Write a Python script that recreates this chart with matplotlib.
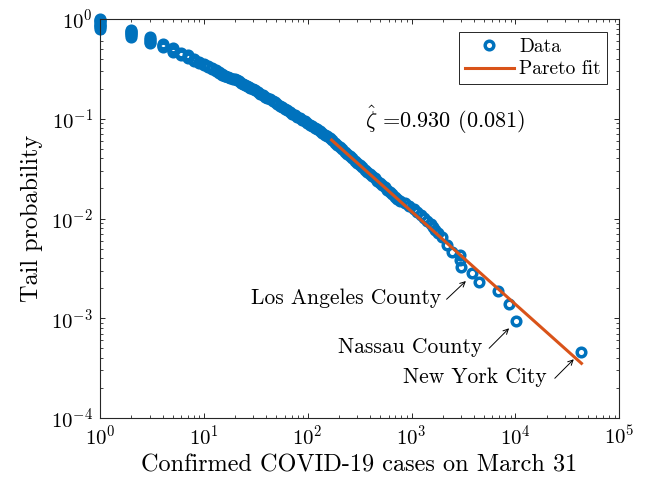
import matplotlib
matplotlib.use("Agg")
import matplotlib.pyplot as plt
from matplotlib.ticker import LogLocator, NullFormatter

plt.rcParams['font.family'] = 'cmr10'
plt.rcParams['mathtext.fontset'] = 'cm'
plt.rcParams['axes.formatter.use_mathtext'] = True

# ---- Data read from the reference (cases, empirical tail probability) ----
# counties with few cases: vertical stacks at integer case counts
stack_cases = [1]*9 + [2]*7 + [3]*5 + [4]*4 + [5]*4 + [6]*3 + [7]*3 + [8]*3 + \
              [9]*2 + [10]*2 + [11]*2 + [12]*2 + [13]*2 + [14]*2 + [15]*2 + [16]*2 + \
              [17, 18, 19, 20]
stack_tail_prob = [1.0, 0.975, 0.95, 0.925, 0.90, 0.875, 0.85, 0.825, 0.80,
                   0.785, 0.765, 0.745, 0.725, 0.705, 0.685, 0.665,
                   0.655, 0.635, 0.615, 0.595, 0.575,
                   0.565, 0.55, 0.535, 0.52,
                   0.51, 0.495, 0.48, 0.47,
                   0.46, 0.45, 0.44,
                   0.432, 0.42, 0.408,
                   0.398, 0.388, 0.378,
                   0.37, 0.36,
                   0.352, 0.344,
                   0.336, 0.328,
                   0.32, 0.312,
                   0.305, 0.298,
                   0.292, 0.286,
                   0.28, 0.275,
                   0.27, 0.266,
                   0.262, 0.258, 0.253, 0.249]

# body of the distribution
body_cases = [21, 22, 23, 24, 25, 26, 27, 28, 30, 31, 33, 35, 37, 39, 41, 43, 46, 48,
              51, 54, 57, 60, 63, 67, 71, 75, 79, 84, 89, 94, 99, 105, 111, 117, 124,
              131, 138, 146, 154, 163, 172,
              182, 192, 203, 215, 227, 240, 254, 268, 284, 300, 317, 335, 354, 374,
              396, 418, 442, 467, 494, 522, 552, 583, 617, 652, 689, 728, 770,
              866, 955, 1052, 1133, 1222, 1313, 1416, 1527, 1607, 1694, 1783]
body_tail_prob = [0.244, 0.237, 0.231, 0.225, 0.219, 0.214, 0.210, 0.205, 0.197, 0.193,
                  0.186, 0.179, 0.173, 0.167, 0.162, 0.157, 0.150, 0.146, 0.140, 0.135,
                  0.130, 0.125, 0.122, 0.117, 0.112, 0.109, 0.105, 0.101, 0.097, 0.094,
                  0.0906, 0.0873, 0.0843, 0.0814, 0.0785, 0.0754, 0.0724, 0.0695,
                  0.0667, 0.0640, 0.0610,
                  0.0574, 0.0547, 0.0519, 0.0492, 0.0468, 0.0444, 0.0421, 0.0401,
                  0.0380, 0.0360, 0.0343, 0.0325, 0.0309, 0.0294, 0.0279, 0.0265,
                  0.0252, 0.0239, 0.0227, 0.0215, 0.0205, 0.0194, 0.0184, 0.0175,
                  0.0166, 0.0158, 0.0150,
                  0.01429, 0.01334, 0.01245, 0.01162, 0.01084, 0.01012, 0.00944,
                  0.00881, 0.00822, 0.00767, 0.00716]

# largest counties (individual circles)
tail_cases = [1944, 2173, 2427, 2915, 2915, 2965, 3785, 4450, 6820, 8650, 10090, 43260]
tail_tail_prob = [6.57e-3, 5.42e-3, 4.65e-3, 4.31e-3, 3.84e-3, 3.29e-3, 2.82e-3,
                  2.32e-3, 1.88e-3, 1.39e-3, 9.38e-4, 4.56e-4]

# Pareto fit line (end points)
fit_cases = [170, 43260]
fit_tail_prob = [0.0612, 3.53e-4]

zeta_hat = "0.930"
zeta_se = "0.081"

cases = stack_cases + body_cases + tail_cases
tail_prob = stack_tail_prob + body_tail_prob + tail_tail_prob

BLUE = '#0072BD'
ORANGE = '#D95319'
AXC = '#262626'

fig = plt.figure(figsize=(6.56, 4.83), dpi=100)
ax = fig.add_axes([0.1524, 0.1346, 0.7916, 0.826])

ax.plot(cases, tail_prob, 'o', ms=6.2, mew=2.5, mfc='none', mec=BLUE,
        ls='none', label='Data', zorder=2, clip_on=False)
ax.plot(fit_cases, fit_tail_prob, '-', color=ORANGE, lw=2.2,
        label='Pareto fit', zorder=3)

ax.set_xscale('log')
ax.set_yscale('log')
ax.set_xlim(1, 1e5)
ax.set_ylim(1e-4, 1)

for axis in (ax.xaxis, ax.yaxis):
    axis.set_major_locator(LogLocator(base=10, numticks=20))
    axis.set_minor_locator(LogLocator(base=10, subs=range(2, 10), numticks=100))
    axis.set_minor_formatter(NullFormatter())

ax.tick_params(which='both', direction='in', top=True, right=True,
               labelsize=15, colors=AXC, labelcolor='k')
ax.tick_params(which='major', length=3.5, width=0.7, pad=5)
ax.tick_params(which='minor', length=2.0, width=0.6)
for s in ax.spines.values():
    s.set_linewidth(0.8)
    s.set_color(AXC)

ax.set_xlabel('Confirmed COVID-19 cases on March 31', fontsize=17.5, labelpad=4)
ax.set_ylabel('Tail probability', fontsize=17.5, labelpad=6)

leg = ax.legend(loc='upper right', bbox_to_anchor=(0.976, 0.968), borderaxespad=0,
                fontsize=14, fancybox=False, edgecolor=AXC, framealpha=1,
                handlelength=2.5, handletextpad=0.3, borderpad=0.3,
                labelspacing=0.25, numpoints=1)
leg.get_frame().set_linewidth(0.7)

ax.text(355, 0.0972, r'$\hat{\zeta}$ =' + zeta_hat + ' (' + zeta_se + ')',
        ha='left', va='center', fontsize=16)

arrow_kw = dict(arrowstyle='->', lw=0.7, color='k', shrinkA=0, shrinkB=0,
                mutation_scale=9)
ax.text(1914, 1.6e-3, 'Los Angeles County', ha='right', va='center', fontsize=15.5)
ax.annotate('', xy=(3334, 2.36e-3), xytext=(2173, 1.55e-3), arrowprops=arrow_kw)
ax.text(4750, 5.15e-4, 'Nassau County', ha='right', va='center', fontsize=15.5)
ax.annotate('', xy=(8690, 7.93e-4), xytext=(5585, 5.0e-4), arrowprops=arrow_kw)
ax.text(20050, 2.58e-4, 'New York City', ha='right', va='center', fontsize=15.5)
ax.annotate('', xy=(36470, 3.88e-4), xytext=(23950, 2.50e-4), arrowprops=arrow_kw)

fig.savefig('out.png', dpi=100)
